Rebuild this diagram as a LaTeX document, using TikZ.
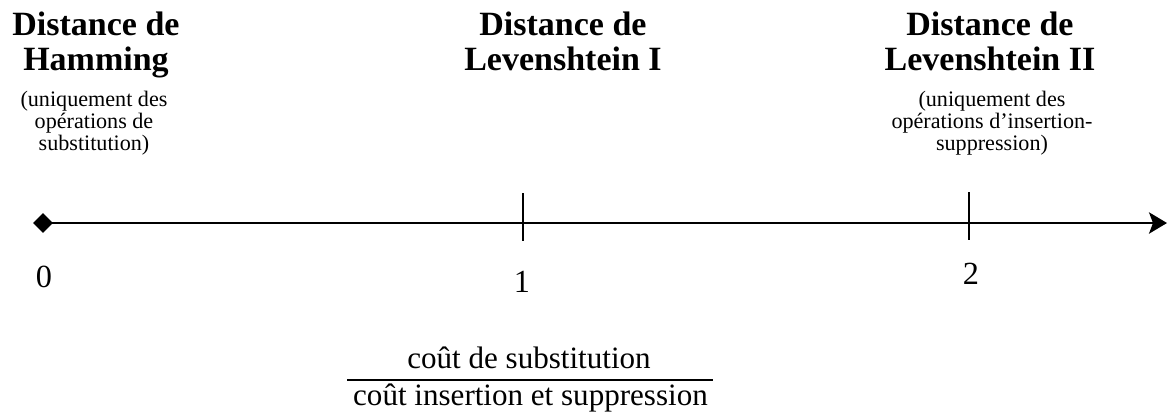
\documentclass[tikz,border=0pt]{standalone}
\usepackage{fontspec}
\setmainfont{Liberation Serif}
\usetikzlibrary{arrows.meta,shapes.geometric}
\begin{document}
\begin{tikzpicture}[x=0.75pt,y=-0.75pt,
  titlebox/.style={anchor=north,inner sep=0pt,align=center,
    font=\fontsize{25.5pt}{26.25pt}\selectfont\bfseries},
  subbox/.style={anchor=north,inner sep=0pt,align=center,
    font=\fontsize{16.6pt}{16.3pt}\selectfont},
  numbox/.style={anchor=base,inner sep=0pt,font=\fontsize{24.2pt}{29pt}\selectfont},
  fracbox/.style={anchor=base,inner sep=0pt,font=\fontsize{23.3pt}{28pt}\selectfont},
  axisline/.style={line width=1.5pt},
  tickline/.style={line width=1.3pt},
  fracline/.style={line width=1.2pt},
  origin/.style={diamond,fill=black,inner sep=0pt,minimum width=15pt,minimum height=15pt}]
\useasboundingbox (0,0) rectangle (1168,412);

% titles
\node[titlebox] (tham) at (96,12) {Distance de\\Hamming};
\node[subbox] (sham) at (94,91) {(uniquement des\\opérations de\\substitution)};
\node[titlebox] (tlev1) at (563,12) {Distance de\\Levenshtein I};
\node[titlebox] (tlev2) at (990,12) {Distance de\\Levenshtein II};
\node[subbox] (slev2) at (992,91) {(uniquement des\\opérations d’insertion-\\suppression)};

% axis
\node[origin] (o) at (43,223) {};
\coordinate (axend) at (1167,223);
\draw[axisline,-{Stealth[length=13.5pt,width=16pt,inset=3pt]}] (o.center) -- (axend);

% ticks
\coordinate (t1a) at (523,193);
\coordinate (t1b) at (523,241);
\coordinate (t2a) at (969,192);
\coordinate (t2b) at (969,240);
\draw[tickline] (t1a) -- (t1b);
\draw[tickline] (t2a) -- (t2b);

% numbers
\node[numbox] (n0) at (44,287) {0};
\node[numbox] (n1) at (522,292) {1};
\node[numbox] (n2) at (971,284) {2};

% fraction
\node[fracbox] (num) at (529,368) {coût de substitution};
\node[fracbox] (den) at (530.5,405) {coût insertion et suppression};
\coordinate (fl) at (347,380);
\coordinate (fr) at (713,380);
\draw[fracline] (fl) -- (fr);
\end{tikzpicture}
\end{document}
